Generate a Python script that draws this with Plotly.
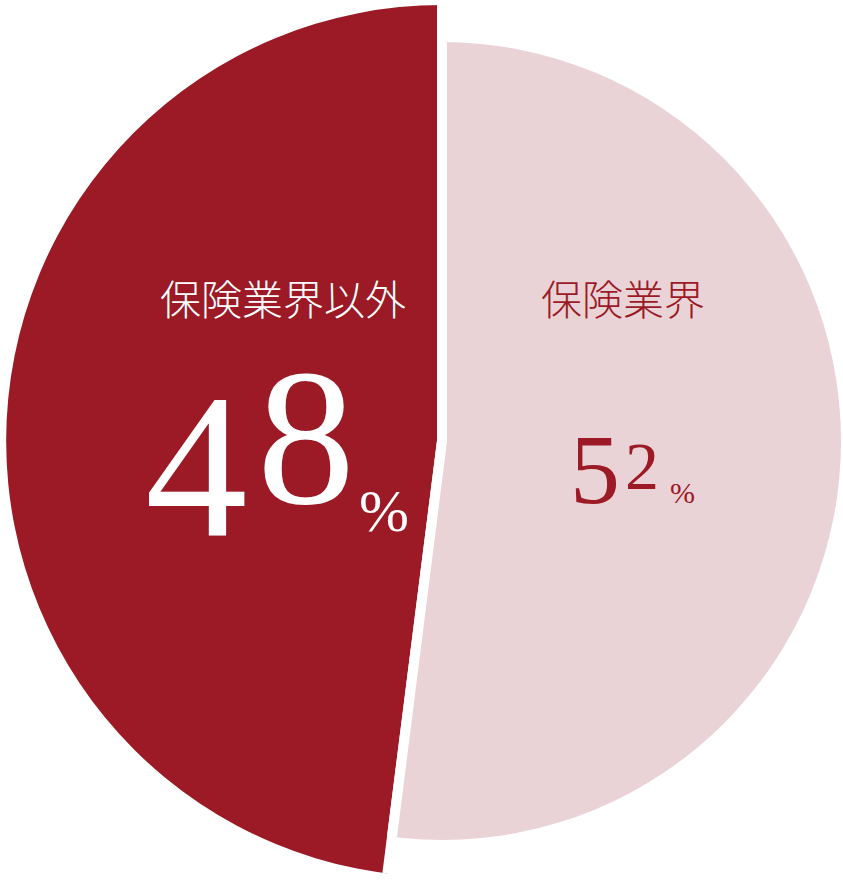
import plotly.graph_objects as go

# ---- data ----
labels = ["保険業界", "保険業界以外"]
values = [52, 48]
colors = ["#EAD3D6", "#9B1A25"]
label_colors = ["#9B1A25", "#FFFFFF"]

W, H = 843, 880
CX, CY = 442, 441          # common centre (px)
R_LIGHT, R_DARK = 399, 436  # outer radii (px)

total = sum(values)
spans = [v / total * 360 for v in values]
starts = [sum(spans[:i]) for i in range(len(spans))]
centers = [s + w / 2 for s, w in zip(starts, spans)]

fig = go.Figure()
# light slice (full circle polar)
fig.add_trace(go.Barpolar(
    r=[1.1], theta=[centers[0]], width=[spans[0]],
    marker=dict(color=colors[0], line=dict(color="white", width=10)),
    subplot="polar2", hoverinfo="skip", showlegend=False))
# dark slice (left half-disc polar, larger radius)
fig.add_trace(go.Barpolar(
    r=[1.1], theta=[centers[1]], width=[spans[1]],
    marker=dict(color=colors[1], line=dict(color="white", width=10)),
    subplot="polar", hoverinfo="skip", showlegend=False))


def px_x(x):
    return x / W


def px_y(y):
    return 1 - y / H


common_polar = dict(
    bgcolor="rgba(0,0,0,0)",
    radialaxis=dict(range=[0, 1], visible=False, showgrid=False),
    angularaxis=dict(rotation=90, direction="clockwise", visible=False, showgrid=False),
)

fig.update_layout(
    width=W, height=H,
    margin=dict(l=0, r=0, t=0, b=0),
    paper_bgcolor="white", plot_bgcolor="white",
    showlegend=False,
    polar=dict(domain=dict(x=[px_x(CX - R_DARK), px_x(CX)],
                           y=[px_y(CY + R_DARK), px_y(CY - R_DARK)]),
               sector=[90, 270], **common_polar),
    polar2=dict(domain=dict(x=[px_x(CX - R_LIGHT), px_x(CX + R_LIGHT)],
                            y=[px_y(CY + R_LIGHT), px_y(CY - R_LIGHT)]),
                **common_polar),
)

SERIF = "Liberation Serif, Times New Roman, serif"
CJK = "Noto Sans CJK JP, sans-serif"


def ann(text, x, y, size, color, family, weight="normal"):
    fig.add_annotation(text=text, x=px_x(x), y=px_y(y), xref="paper", yref="paper",
                       xanchor="center", yanchor="middle", showarrow=False,
                       font=dict(size=size, color=color, family=family, weight=weight))


# category labels
ann(labels[1], 283, 297, 41, label_colors[1], CJK, 300)
ann(labels[0], 623, 297, 41, label_colors[0], CJK, 300)

# percentages (old-style figure look: digits placed individually)
d_dark = str(values[1])
d_light = str(values[0])
ann(d_dark[0], 196, 467, 205, label_colors[1], SERIF)
ann(d_dark[1], 306, 436, 196, label_colors[1], SERIF)
ann("%", 384, 511, 60, label_colors[1], SERIF)
ann(d_light[0], 595, 469, 100, label_colors[0], SERIF)
ann(d_light[1], 642, 466, 68, label_colors[0], SERIF)
ann("%", 682, 492, 30, label_colors[0], SERIF)

fig.write_html("out.html",
               config={"displayModeBar": False},
               post_script="document.body.style.margin='0';document.body.style.overflow='hidden';")
